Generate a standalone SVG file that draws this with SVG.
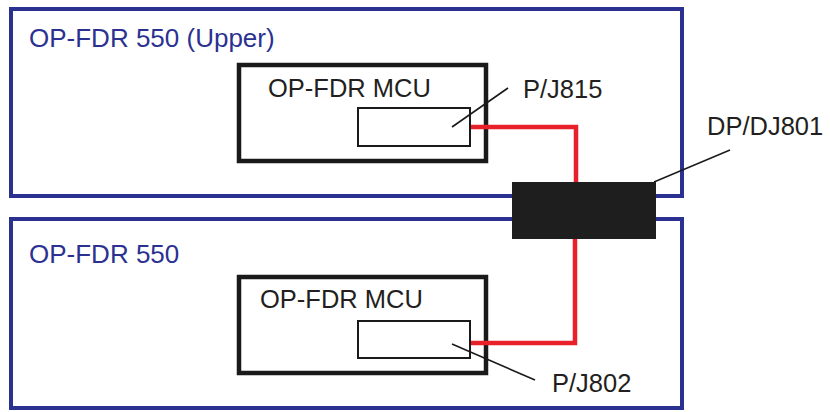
<svg xmlns="http://www.w3.org/2000/svg" width="830" height="412" viewBox="0 0 830 412">
<style>
.unit{fill:#fff;stroke:#2b3191;stroke-width:4}
.mcu{fill:#fff;stroke:#1a1a1a;stroke-width:4.5}
.conn{fill:#fff;stroke:#1a1a1a;stroke-width:2}
.wire{fill:none;stroke:#e8202a;stroke-width:4.5}
.lead{fill:none;stroke:#1a1a1a;stroke-width:1.6}
.t{font-family:"Liberation Sans",Arial,sans-serif;font-size:25.5px;fill:#231f20}
.tb{font-family:"Liberation Sans",Arial,sans-serif;font-size:26px;fill:#2b3191}
</style>
<rect width="830" height="412" fill="#fff"/>
<g id="upper-unit">
<rect class="unit" x="11" y="9" width="671" height="187"/>
<text class="tb" x="29" y="47">OP-FDR 550 (Upper)</text>
</g>
<g id="lower-unit">
<rect class="unit" x="11" y="219" width="671" height="189"/>
<text class="tb" x="29" y="263">OP-FDR 550</text>
</g>
<g id="upper-mcu">
<rect class="mcu" x="239" y="65" width="247" height="96"/>
<text class="t" x="268" y="97">OP-FDR MCU</text>
</g>
<g id="pj815">
<rect class="conn" x="358" y="108" width="112" height="38"/>
</g>
<g id="lower-mcu">
<rect class="mcu" x="239" y="277" width="247" height="96"/>
<text class="t" x="260" y="308">OP-FDR MCU</text>
</g>
<g id="pj802">
<rect class="conn" x="358" y="321" width="112" height="37"/>
</g>
<g id="connectors">
<polyline class="wire" points="471,127 576,127 576,184"/>
<polyline class="wire" points="471,343 575,343 575,238"/>
<line class="lead" x1="452" y1="127" x2="508" y2="88"/>
<line class="lead" x1="452" y1="344" x2="535" y2="380"/>
<line class="lead" x1="654" y1="182" x2="730" y2="150"/>
</g>
<g id="dpdj801">
<rect x="512" y="182" width="144" height="57" fill="#1e1e1e"/>
</g>
<g id="labels">
<text class="t" x="523" y="98">P/J815</text>
<text class="t" x="707" y="135">DP/DJ801</text>
<text class="t" x="552" y="392">P/J802</text>
</g>
</svg>
